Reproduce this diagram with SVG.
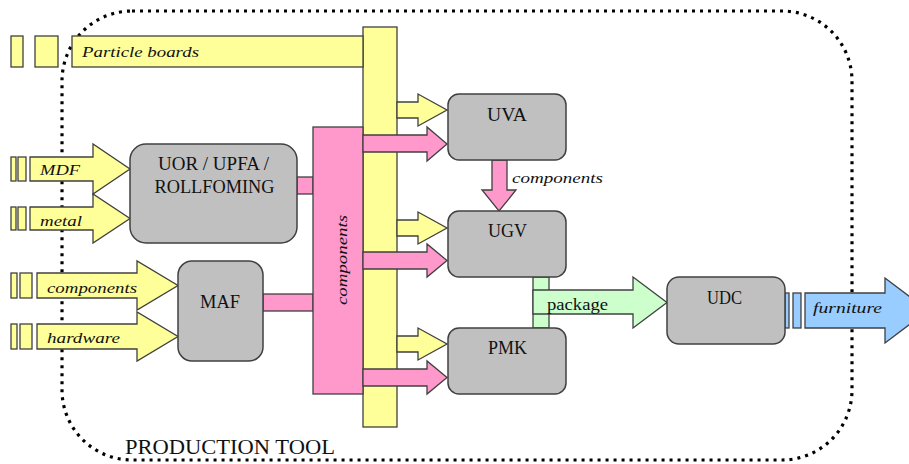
<svg xmlns="http://www.w3.org/2000/svg" width="909" height="464" viewBox="0 0 909 464">
<style>
.y{fill:#ffff99;stroke:#404040;stroke-width:1.3}
.p{fill:#ff99cc;stroke:#404040;stroke-width:1.3}
.g{fill:#ccffcc;stroke:#404040;stroke-width:1.3}
.b{fill:#99ccff;stroke:#404040;stroke-width:1.3}
.box{fill:#c0c0c0;stroke:#404040;stroke-width:1.5}
.t{font-family:"Liberation Serif","DejaVu Serif","Times New Roman",serif;font-size:18px;fill:#111;text-anchor:middle}
.i{font-family:"Liberation Serif","DejaVu Serif","Times New Roman",serif;font-style:italic;font-size:15px;fill:#111}
.s{font-family:"Liberation Serif","DejaVu Serif","Times New Roman",serif;fill:#111}
</style>
<rect id="border" x="62" y="11" width="790" height="449" rx="70" ry="70" fill="none" stroke="#000" stroke-width="3.2" stroke-dasharray="3 5"/>
<text class="s" x="125" y="454" font-size="21" textLength="210" lengthAdjust="spacingAndGlyphs">PRODUCTION TOOL</text>
<g id="connectors">
  <rect class="y" x="363" y="27" width="34" height="400"/>
  <g id="particle">
    <rect class="y" x="11" y="36" width="12" height="31"/>
    <rect class="y" x="35" y="36" width="23" height="31"/>
    <rect class="y" x="72" y="36" width="291" height="31"/>
    <text class="i" x="82" y="57" font-size="18" textLength="117" lengthAdjust="spacingAndGlyphs">Particle boards</text>
  </g>
  <rect class="p" x="297" y="177" width="16" height="17"/>
  <rect class="p" x="263" y="294" width="50" height="17"/>
  <rect class="p" x="313" y="127" width="50" height="267"/>
  <text class="i" transform="translate(347,260) rotate(-90)" text-anchor="middle" textLength="90" lengthAdjust="spacingAndGlyphs">components</text>
  <path class="p" d="M363,135 H427 V127 L447,144 L427,161 V152 H363 Z"/>
  <path class="p" d="M363,252 H427 V244 L447,260.5 L427,277 V269 H363 Z"/>
  <path class="p" d="M363,369 H427 V361 L447,377.5 L427,394 V386 H363 Z"/>
  <path class="y" d="M397,102 H418 V94 L447,110 L418,126 V118 H397 Z"/>
  <path class="y" d="M397,220 H418 V212 L447,228 L418,244 V236 H397 Z"/>
  <path class="y" d="M397,336 H418 V328 L447,344 L418,360 V352 H397 Z"/>
  <path class="p" d="M492,160 V190 H482 L499,211 L516,190 H507 V160 Z"/>
  <text class="i" x="512" y="183" textLength="91" lengthAdjust="spacingAndGlyphs">components</text>
  <rect class="g" x="533" y="277" width="16" height="51"/>
  <path class="g" d="M533,290 H633 V277 L667,302.5 L633,328 V314 H533 Z"/>
  <text class="s" x="547" y="310" font-size="16" textLength="61" lengthAdjust="spacingAndGlyphs">package</text>
  <g id="mdf">
    <rect class="y" x="11" y="157" width="5" height="24"/>
    <rect class="y" x="18" y="157" width="8" height="24"/>
    <path class="y" d="M30,157 H93 V144 L130,169 L93,194 V181 H30 Z"/>
    <text class="i" x="40" y="175" textLength="40" lengthAdjust="spacingAndGlyphs">MDF</text>
  </g>
  <g id="metal">
    <rect class="y" x="11" y="207" width="5" height="23"/>
    <rect class="y" x="18" y="207" width="8" height="23"/>
    <path class="y" d="M30,207 H93 V194 L130,218.5 L93,243 V230 H30 Z"/>
    <text class="i" x="40" y="226" textLength="42" lengthAdjust="spacingAndGlyphs">metal</text>
  </g>
  <g id="comp-in">
    <rect class="y" x="11" y="273" width="6" height="25"/>
    <rect class="y" x="20" y="273" width="12" height="25"/>
    <path class="y" d="M37,273 H137 V261 L178,285.5 L137,310 V298 H37 Z"/>
    <text class="i" x="47" y="293" textLength="90" lengthAdjust="spacingAndGlyphs">components</text>
  </g>
  <g id="hardware">
    <rect class="y" x="11" y="324" width="6" height="25"/>
    <rect class="y" x="20" y="324" width="12" height="25"/>
    <path class="y" d="M37,324 H137 V312 L178,336.5 L137,361 V349 H37 Z"/>
    <text class="i" x="47" y="343" textLength="73" lengthAdjust="spacingAndGlyphs">hardware</text>
  </g>
  <g id="furniture">
    <rect class="b" x="785" y="293" width="4" height="35"/>
    <rect class="b" x="793" y="293" width="8" height="35"/>
    <path class="b" d="M805,293 H885 V278 L928,310.5 L885,343 V328 H805 Z"/>
    <text class="i" x="813" y="313" font-size="17" textLength="69" lengthAdjust="spacingAndGlyphs">furniture</text>
  </g>
</g>
<g id="UOR">
  <rect class="box" x="130" y="144" width="167" height="99" rx="16"/>
  <text class="t" x="213.5" y="170" textLength="111" lengthAdjust="spacingAndGlyphs">UOR / UPFA /</text>
  <text class="t" x="214.5" y="193" textLength="120" lengthAdjust="spacingAndGlyphs">ROLLFOMING</text>
</g>
<g id="MAF">
  <rect class="box" x="178" y="261" width="85" height="100" rx="14"/>
  <text class="t" x="220" y="308" textLength="40" lengthAdjust="spacingAndGlyphs">MAF</text>
</g>
<g id="UVA">
  <rect class="box" x="448" y="94" width="118" height="66" rx="11"/>
  <text class="t" x="507" y="121" textLength="40" lengthAdjust="spacingAndGlyphs">UVA</text>
</g>
<g id="UGV">
  <rect class="box" x="448" y="211" width="118" height="66" rx="11"/>
  <text class="t" x="507.5" y="237" textLength="39" lengthAdjust="spacingAndGlyphs">UGV</text>
</g>
<g id="PMK">
  <rect class="box" x="448" y="328" width="118" height="66" rx="11"/>
  <text class="t" x="507.5" y="354" textLength="39" lengthAdjust="spacingAndGlyphs">PMK</text>
</g>
<g id="UDC">
  <rect class="box" x="667" y="277" width="118" height="67" rx="12"/>
  <text class="t" x="724.5" y="304" textLength="35" lengthAdjust="spacingAndGlyphs">UDC</text>
</g>
</svg>
